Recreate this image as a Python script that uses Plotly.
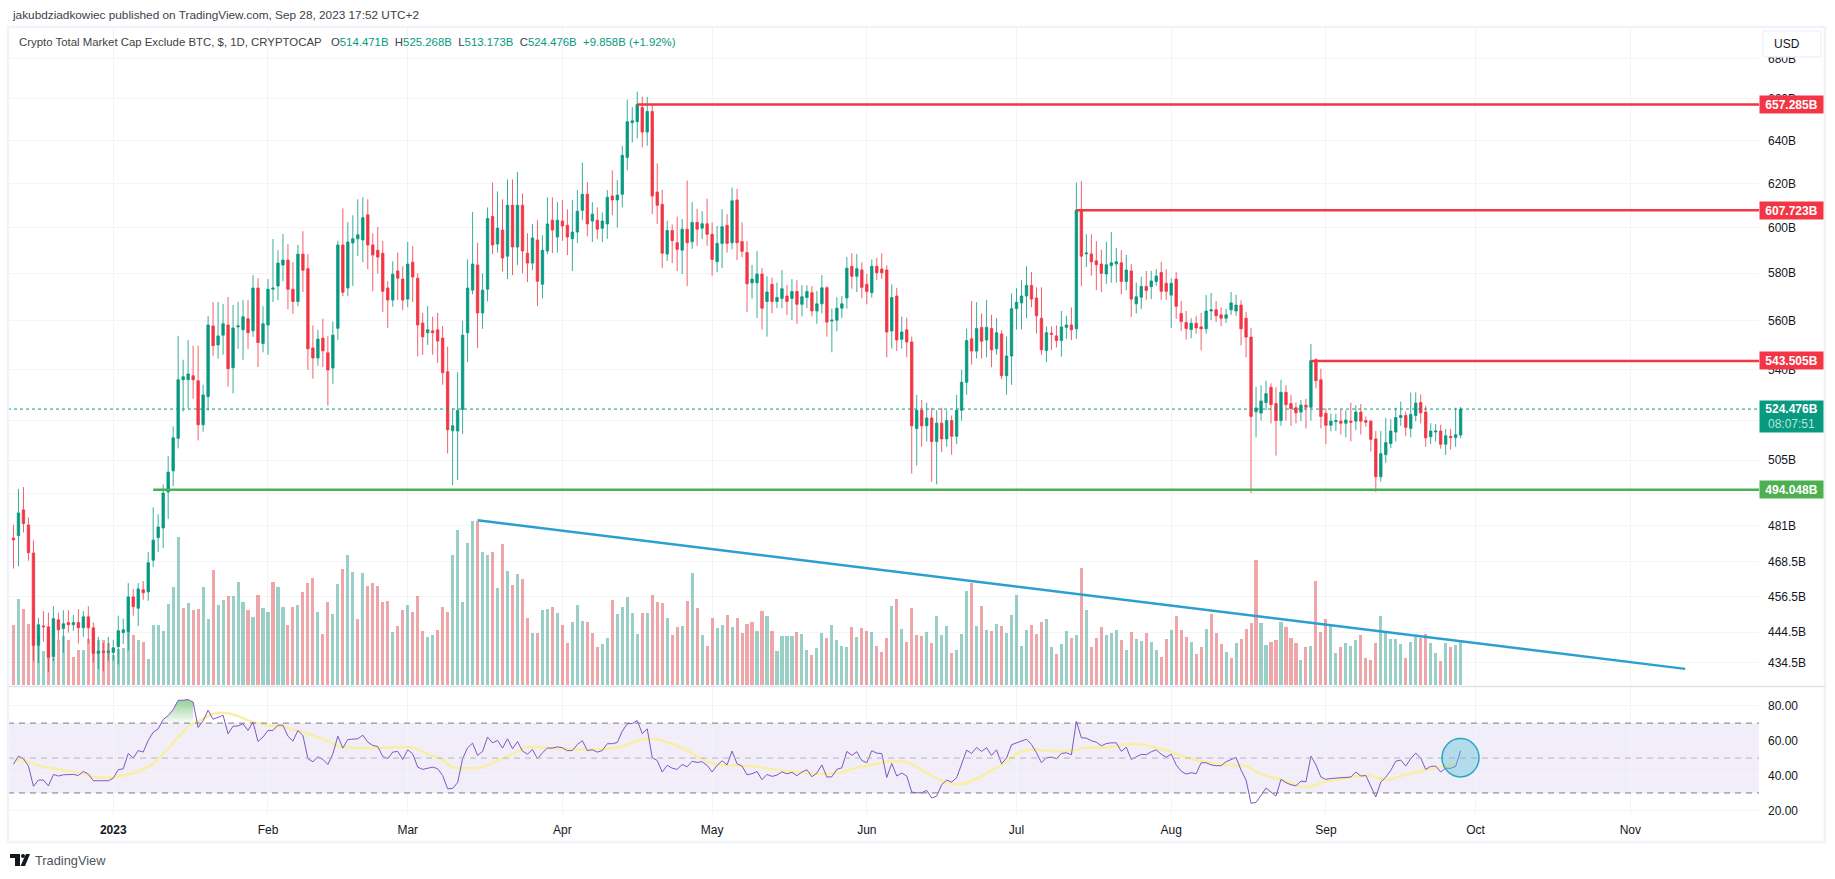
import math

import pandas as pd
import plotly.graph_objects as go

WIDTH, HEIGHT = 1835, 879
GREEN = "#089981"
RED = "#F23645"
FONT = "Liberation Sans"

# daily OHLC in billions (first candle 2022-12-12)
opens = [
    476.6,477.5,486.7,481.3,471.4,440.2,446.6,446.3,436.5,448.6,
    445.7,447.7,447.0,447.7,446.0,449.6,446.0,437.6,438.3,437.9,
    437.9,439.8,444.4,444.7,456.3,452.5,458.7,458.0,468.9,476.8,
    480.2,493.2,501.0,513.2,536.0,536.0,537.6,535.6,518.4,529.3,
    557.8,550.0,554.0,558.2,540.8,557.4,556.2,560.8,555.8,573.7,
    550.6,558.2,573.2,574.6,583.6,585.7,573.2,568.0,588.3,582.0,
    548.8,544.7,552.8,546.8,540.7,556.8,592.3,573.7,593.2,595.0,
    594.5,605.7,592.3,590.0,588.7,573.7,568.6,581.0,577.5,569.0,
    584.8,577.9,559.0,555.0,555.8,556.2,552.8,539.2,516.1,516.0,
    524.3,555.0,572.8,583.6,563.2,573.2,604.9,592.7,598.9,587.4,
    610.0,591.4,610.0,588.7,584.4,594.5,575.3,589.7,603.3,595.8,
    602.9,601.0,595.0,598.0,607.7,615.0,602.9,603.3,599.7,601.6,
    614.2,612.4,615.0,632.0,648.5,649.0,655.8,644.0,653.9,616.0,
    610.4,588.3,598.7,593.3,590.0,599.3,593.7,602.3,599.7,601.7,
    597.0,585.0,593.0,601.0,593.3,612.4,593.8,589.0,575.9,575.9,
    579.7,568.0,575.3,568.0,569.3,570.3,569.3,572.2,566.8,569.7,
    571.7,564.0,567.0,573.8,559.8,560.2,565.2,569.5,583.0,578.7,
    581.4,575.3,571.7,583.0,581.8,581.4,555.7,570.3,552.3,556.2,
    551.2,517.0,524.0,518.0,521.0,512.0,519.0,513.0,520.0,514.0,
    524.0,535.0,552.5,547.5,557.2,552.0,556.7,548.4,554.5,537.6,
    545.5,565.0,567.4,570.3,574.8,569.5,561.0,547.7,554.8,553.7,
    551.8,557.2,558.2,556.6,607.8,588.4,588.4,585.4,584.0,579.7,
    583.3,584.0,584.5,576.5,581.0,567.0,569.8,574.4,574.3,576.5,
    580.3,575.7,570.7,577.5,563.0,559.2,556.3,558.9,557.4,556.6,
    564.0,564.5,562.4,561.0,564.5,564.0,566.5,561.0,553.2,523.4,
    522.9,527.0,533.0,526.6,520.0,531.0,526.6,525.0,523.3,526.0,
    525.2,544.0,536.0,522.8,518.2,519.6,519.8,519.0,519.8,519.8,
    523.3,520.0,519.8,513.0,498.8,507.0,511.2,515.6,521.2,522.0,
    517.0,522.0,527.0,523.3,513.8,515.6,516.0,511.0,514.0,513.5,
    514.471,
]
highs = [
    481.4,494.3,495.0,484.0,475.8,449.3,451.5,451.0,453.2,451.0,
    451.8,451.8,450.2,452.2,451.5,453.2,447.7,443.0,441.0,443.0,
    442.0,450.0,449.0,461.0,459.0,461.0,461.7,471.7,487.6,485.1,
    496.0,506.5,517.8,553.7,544.0,552.0,549.7,549.7,534.0,562.0,
    567.8,567.8,567.0,569.9,566.5,567.8,568.6,568.6,579.2,577.9,
    566.0,577.5,594.9,590.0,597.2,592.7,584.8,592.3,598.4,588.3,
    558.0,556.2,560.8,553.7,559.6,594.1,608.6,602.4,605.5,612.7,
    613.6,612.7,597.5,600.2,594.1,576.6,585.2,589.0,583.0,593.6,
    591.8,580.0,563.2,566.0,561.6,563.2,557.8,549.3,524.7,539.0,
    560.0,586.0,607.0,593.2,580.0,609.0,620.3,616.3,612.7,621.8,
    621.8,625.2,615.4,597.5,601.6,603.3,596.6,613.6,613.6,611.4,
    612.3,608.2,612.3,616.9,629.6,620.5,611.4,609.0,606.8,616.9,
    626.0,621.5,637.5,659.7,656.0,663.6,661.1,661.0,657.3,629.2,
    617.0,603.0,601.4,604.9,603.8,621.3,611.4,608.4,607.3,613.0,
    602.3,600.7,608.2,606.0,618.0,617.5,602.3,594.0,583.6,589.6,
    582.2,578.7,578.2,576.0,581.4,575.0,577.5,577.0,574.9,574.9,
    574.5,572.4,579.2,574.5,565.0,569.8,570.3,587.0,588.7,588.3,
    584.7,579.7,586.0,586.7,588.7,583.4,575.3,573.8,561.6,561.2,
    553.4,530.0,528.0,527.0,525.0,524.0,525.0,524.0,522.0,530.0,
    540.0,556.7,568.2,567.7,563.0,568.6,562.4,561.0,556.0,553.4,
    571.4,573.6,577.0,583.0,580.5,574.0,574.0,557.5,557.5,558.0,
    564.0,562.0,565.5,620.4,621.0,597.0,597.0,594.0,590.2,593.8,
    598.0,591.0,590.0,588.0,584.0,576.0,578.5,581.0,581.0,581.8,
    585.0,581.8,577.9,580.5,568.2,564.0,561.0,562.0,563.2,570.7,
    571.6,568.2,565.5,564.9,572.0,570.8,568.5,563.6,557.0,533.2,
    533.8,535.6,534.6,533.0,536.0,533.8,530.0,527.0,528.0,528.5,
    550.4,544.6,540.4,524.7,522.7,522.7,524.4,524.0,527.0,526.0,
    526.4,521.6,520.2,516.0,516.0,521.0,520.5,525.0,527.4,523.5,
    531.0,531.0,530.2,525.8,519.0,518.7,518.4,516.8,516.8,525.0,
    525.268,
]
lows = [
    466.0,466.7,478.6,468.7,435.0,434.4,441.4,431.5,435.0,441.8,
    437.8,444.4,445.0,440.8,443.0,440.8,434.6,432.5,431.8,435.2,
    435.2,434.0,440.7,438.4,450.0,446.6,455.3,455.0,466.5,471.7,
    473.1,483.4,495.4,509.4,523.5,524.6,528.5,512.4,515.7,523.8,
    545.6,544.4,546.0,533.3,530.6,548.4,544.0,548.4,553.3,541.1,
    547.0,546.0,567.8,568.6,576.6,564.8,562.8,566.0,572.0,540.0,
    536.4,541.6,541.1,525.8,534.4,552.0,570.2,570.2,574.6,587.5,
    584.8,581.7,572.3,579.8,563.6,557.0,565.8,568.6,564.4,565.6,
    567.8,545.4,546.0,550.0,546.0,542.7,534.0,507.5,495.7,497.6,
    514.9,543.0,571.0,548.8,556.6,568.0,588.3,589.0,580.8,577.5,
    579.2,583.6,580.0,576.2,581.3,566.0,569.3,588.3,588.7,589.0,
    594.1,587.9,581.0,593.2,603.3,596.1,593.6,595.0,593.6,595.0,
    605.5,600.0,609.0,626.0,639.0,641.0,636.7,637.5,606.0,601.6,
    582.2,585.2,584.4,581.0,579.7,574.5,590.6,591.9,594.9,591.9,
    579.0,580.5,582.2,589.0,590.4,585.7,587.0,563.6,569.2,561.0,
    556.3,553.4,563.1,565.2,565.2,562.3,560.2,558.7,561.8,565.2,
    561.8,558.7,563.0,553.4,547.0,555.6,561.0,565.0,573.4,572.0,
    569.4,566.8,569.6,577.0,577.5,544.9,548.5,547.5,548.5,545.0,
    500.0,503.0,510.0,512.0,497.0,496.0,508.0,510.0,507.0,511.0,
    520.0,530.0,542.0,544.5,544.5,545.0,541.0,546.0,536.3,530.0,
    534.0,556.3,556.3,561.0,565.6,554.7,546.0,543.0,548.0,549.0,
    545.2,552.5,552.0,552.5,574.6,582.7,579.0,572.8,572.0,575.5,
    576.0,576.0,571.0,572.8,561.5,563.0,564.8,568.7,569.0,574.6,
    568.7,568.7,557.0,560.7,555.8,552.2,552.7,554.6,547.8,554.6,
    560.2,559.4,557.7,559.0,562.4,562.0,549.8,545.0,492.8,513.6,
    520.0,524.0,518.9,506.7,518.0,520.0,518.0,518.9,519.8,517.0,
    520.0,532.6,517.0,511.0,515.9,516.0,514.7,513.6,512.0,516.3,
    514.7,517.6,508.2,493.2,497.0,504.0,509.5,512.0,518.0,514.0,
    513.6,519.8,518.9,510.0,511.0,512.0,509.3,507.0,509.0,510.0,
    513.173,
]
closes = [
    476.0,485.6,481.8,471.5,440.2,447.0,446.3,436.3,449.0,445.3,
    447.3,447.0,447.7,446.0,449.6,446.0,437.6,438.3,437.9,438.3,
    439.4,445.0,445.3,456.3,453.0,459.0,457.7,468.0,475.9,480.6,
    492.8,500.5,513.4,536.0,537.2,538.3,536.0,518.4,530.0,558.2,
    549.7,553.7,558.7,540.4,557.0,557.8,561.6,555.0,573.7,551.0,
    558.7,573.2,573.7,584.4,585.7,573.2,568.0,588.3,581.3,548.4,
    544.7,552.4,547.6,539.9,554.0,592.3,571.9,593.6,595.0,596.8,
    604.4,592.3,587.9,587.0,572.3,568.6,579.6,577.9,568.6,584.0,
    578.4,558.2,553.3,556.2,555.0,551.6,538.8,516.5,518.0,523.9,
    554.0,573.7,584.0,563.2,572.8,604.0,592.3,599.7,586.6,610.0,
    591.4,610.0,589.7,584.4,595.4,576.6,590.0,601.6,598.9,603.3,
    600.7,595.8,598.0,607.3,615.0,601.6,606.0,599.3,602.9,613.6,
    612.4,614.6,633.0,649.0,649.4,657.3,644.0,653.9,614.2,610.0,
    588.7,598.7,594.2,590.4,599.3,593.3,602.3,599.3,601.7,597.0,
    586.0,593.0,600.4,593.0,612.0,593.3,589.5,575.5,577.5,579.7,
    565.2,572.0,568.0,569.7,573.4,568.0,572.2,566.8,570.0,572.2,
    564.0,567.0,573.8,559.4,560.2,565.2,567.0,582.2,578.7,582.0,
    574.0,572.2,583.0,580.2,580.2,555.3,569.7,552.0,555.3,551.2,
    518.0,524.0,518.0,521.0,512.0,519.0,513.0,520.0,514.0,524.0,
    535.0,551.8,547.5,556.7,551.5,557.2,548.0,555.0,537.6,545.5,
    565.0,567.7,570.3,574.8,569.0,562.0,548.0,555.0,554.4,551.8,
    557.4,558.2,556.2,607.8,587.4,588.8,585.0,583.7,580.0,583.7,
    584.5,585.0,576.5,581.4,569.0,570.0,574.4,572.7,576.7,578.8,
    572.3,572.3,575.7,566.0,559.6,556.7,558.9,557.0,556.6,564.0,
    564.5,562.0,561.0,562.4,567.4,566.5,556.6,553.2,521.6,524.9,
    527.6,530.5,526.2,520.0,531.0,526.2,524.7,523.0,526.0,525.2,
    543.6,535.6,521.6,518.2,519.8,520.0,519.0,520.2,519.4,523.3,
    519.8,519.4,512.8,498.8,507.4,511.6,516.0,521.2,522.0,517.4,
    522.4,526.8,523.0,513.4,516.0,516.0,511.0,514.2,513.5,514.6,
    524.476,
]

# volume (arbitrary units, only relative size can be read) and its bar colour
volumes = [
    182,260,230,185,230,149,104,170,82,137,
    149,137,86,107,107,140,157,137,137,128,
    90,110,113,160,152,137,131,80,182,182,
    164,245,296,446,233,248,227,230,296,200,
    347,242,257,269,269,311,251,227,206,272,
    233,221,311,296,236,182,236,242,281,308,
    323,221,155,251,215,305,350,392,341,200,
    338,299,308,299,251,254,161,179,227,242,
    221,269,164,146,152,167,236,221,392,467,
    251,428,494,495,401,392,401,293,425,344,
    302,335,320,203,158,158,227,230,236,218,
    182,128,191,242,194,191,158,116,123,141,
    255,213,234,264,216,153,216,216,270,249,
    246,201,150,174,177,252,336,231,150,117,
    201,171,180,210,174,201,156,183,189,162,
    222,207,162,102,147,147,147,159,153,105,
    90,111,156,141,180,135,117,114,174,144,
    171,162,159,117,99,141,237,258,168,129,
    231,150,147,159,126,207,150,177,96,105,
    153,282,306,177,237,165,162,183,177,156,
    210,270,117,165,180,153,189,198,114,93,
    123,162,141,150,351,225,114,141,174,150,
    156,165,135,105,159,138,132,156,129,105,
    84,138,165,207,165,144,129,93,114,168,
    213,156,123,99,81,126,138,168,186,375,
    186,120,129,135,189,174,141,126,75,114,
    117,312,159,198,180,96,114,126,117,135,
    150,81,75,126,207,156,138,138,123,81,
    129,144,141,153,126,96,72,126,114,120,
    129,
]
volume_sides = (
    "RGRRRGGRGR" "GRRRGRRGRR" "GGGGRGRGGG" "GGGGRGRRGG" "RGGRGGGRGR"
    "GGRGGRRGRR" "RGRRGGRGGR" "GRRRRRGRRG" "RRRGGRRRGG" "GGGRGGRGRG"
    "RGRRGRGGRG" "RRGGGRRRGG" "RGGGGGRGRR" "RGRRGRGRGR" "RGGRGRRRRG"
    "RGRGGGGRGG" "RGGRGGGGRG" "RRGRRRGRGR" "RRRGRGGGRG" "GGRGRGRGRG"
    "GGGGRRRGGR" "GGRGRGRRRG" "GGRGRGGRGG" "RRGRRRGRRG" "RRRGRGRRRR"
    "GGRRGRRRGR" "GRRRGGRGGG" "RRRRGGGGGR" "GGRRGGRGRG" "G"
)

rsi = [
    46.5,51.1,49.6,45.4,33.8,37.4,37.4,34.0,40.6,39.7,
    40.4,40.6,40.6,40.0,42.3,40.8,37.0,37.0,37.0,37.0,
    38.5,43.3,43.9,52.6,50.0,54.3,53.4,60.1,64.8,66.7,
    72.1,74.3,77.8,83.1,83.1,83.5,82.0,67.5,71.3,77.4,
    72.2,73.4,74.5,63.9,68.2,68.4,69.6,65.8,70.5,59.5,
    62.0,65.8,65.8,68.8,68.8,62.5,59.7,65.8,62.9,49.6,
    47.9,50.7,49.2,46.3,52.4,62.5,55.7,60.6,60.8,61.0,
    63.1,59.1,57.2,56.6,50.9,49.6,53.4,53.8,49.2,54.7,
    52.4,44.8,43.5,44.2,44.8,43.9,40.0,32.4,32.6,35.9,
    49.6,55.9,58.5,51.5,53.8,62.0,58.7,60.1,55.7,61.0,
    55.3,59.5,54.0,52.2,54.9,49.6,53.0,55.7,55.7,56.4,
    55.9,54.2,54.3,57.8,59.9,54.3,54.7,53.4,54.3,58.2,
    58.2,58.9,65.4,69.6,69.8,71.5,64.0,66.7,50.2,48.6,
    42.0,45.8,44.2,43.5,46.3,45.0,48.1,47.5,47.9,45.8,
    42.0,45.8,48.4,46.1,54.0,46.7,45.4,40.4,41.0,42.3,
    37.6,40.6,39.5,40.2,42.1,41.0,41.8,39.9,42.0,43.3,
    39.3,41.4,46.1,39.1,39.3,43.5,44.4,53.8,51.5,53.6,
    48.6,47.3,54.2,52.8,52.6,38.9,46.9,39.7,41.4,39.7,
    30.5,30.1,30.1,31.5,27.1,28.2,34.7,37.4,36.2,38.7,
    46.7,54.5,52.6,56.1,53.8,55.9,51.5,54.7,46.7,50.0,
    57.6,58.7,59.5,60.8,57.8,53.0,47.3,50.2,50.5,49.6,
    52.6,53.0,51.9,71.1,61.6,61.4,59.9,59.1,57.0,58.3,
    58.7,58.7,53.8,56.2,49.2,50.5,52.1,51.9,53.6,54.7,
    52.2,50.5,52.2,46.1,42.5,40.8,41.6,41.0,47.3,47.3,
    46.1,45.6,45.6,47.9,49.2,50.3,43.1,37.4,24.1,24.6,
    28.6,32.8,30.5,28.2,37.8,35.9,34.7,34.1,36.8,36.4,
    51.1,46.1,39.1,37.8,38.3,38.5,38.5,38.7,39.1,42.0,
    39.7,40.0,34.3,27.7,36.2,39.1,42.9,48.2,48.8,45.4,
    49.6,52.8,50.0,43.5,45.2,45.4,42.0,44.2,44.1,45.2,
    54.2,
]

# yellow RSI average, read at the candles where its shape changes
rsi_ma_days = [
    0,2,5,8,11,14,16,19,22,25,28,30,33,35,38,40,43,45,48,51,54,57,60,63,65,68,72,76,80,83,
    86,88,91,94,97,100,103,107,111,114,118,122,125,128,132,135,138,141,143,148,152,157,161,
    165,169,173,176,179,181,184,187,190,193,196,199,201,204,208,212,215,219,223,226,231,236,
    240,244,247,250,254,259,263,267,270,272,275,279,284,287,289,
]
rsi_ma = [
    49.0,48.4,45.8,43.9,42.5,41.0,39.1,38.9,40.0,42.3,46.7,52.4,62.0,68.1,72.4,75.3,75.7,74.0,
    70.5,68.6,67.7,65.8,62.9,59.7,56.8,55.9,55.7,56.2,55.9,52.4,49.0,44.8,44.2,44.8,48.6,52.4,
    56.2,55.7,55.3,54.7,55.3,56.6,59.9,61.0,58.2,54.3,49.6,46.1,45.8,45.4,43.5,42.0,41.0,41.4,
    44.4,46.7,48.1,47.7,44.8,40.0,35.9,35.1,38.2,42.9,47.7,52.4,54.9,54.0,54.3,55.9,55.9,57.8,
    57.8,54.3,49.6,47.3,45.8,45.4,40.6,37.8,33.4,36.6,38.5,40.0,39.7,37.6,40.4,43.9,45.4,46.9,
]

# axis ticks, 520 and 493 have a grid line but their labels are fully hidden on the original
price_ticks = [680, 660, 640, 620, 600, 580, 560, 540, 520, 505, 492.5, 481, 468.5, 456.5, 444.5, 434.5]
price_labels = ["680B", "660B", "640B", "620B", "600B", "580B", "560B", "540B", "", "505B", "",
                "481B", "468.5B", "456.5B", "444.5B", "434.5B"]
rsi_ticks = [20, 40, 60, 80]
rsi_labels = ["20.00", "40.00", "60.00", "80.00"]
month_ticks = ["2023-01-01", "2023-02-01", "2023-03-01", "2023-04-01", "2023-05-01", "2023-06-01",
               "2023-07-01", "2023-08-01", "2023-09-01", "2023-10-01", "2023-11-01"]
month_labels = ["<b>2023</b>", "Feb", "Mar", "Apr", "May", "Jun", "Jul", "Aug", "Sep", "Oct", "Nov"]

# drawn levels: price, first candle of the line, colour
level_prices = [657.285, 607.723, 543.505, 494.048]
level_starts = ["2023-04-16", "2023-07-13", "2023-08-29", "2023-01-09"]
level_colors = [RED, RED, RED, "#4CAF50"]
last_price = 524.476
trend_dates = ["2023-03-15", "2023-11-12"]
trend_prices = [483.0, 432.6]

dates = pd.date_range("2022-12-12", periods=len(closes), freq="D")
x_range = ["2022-12-10 21:36", "2023-11-26 19:00"]


# paper coordinates from screen pixels
def px(x):
    return x / WIDTH


def py(y):
    return 1 - y / HEIGHT


fig = go.Figure()

# --------------------------------------------------
# volume, price, levels
# --------------------------------------------------
fig.add_trace(go.Bar(
    x=dates,
    y=volumes,
    width=0.62 * 86400000,
    marker_color=["rgba(53,159,143,0.5)" if s == "G" else "rgba(223,77,81,0.5)" for s in volume_sides],
    marker_line_width=0,
    xaxis="x",
    yaxis="y",
))
fig.add_trace(go.Candlestick(
    x=dates,
    open=opens,
    high=highs,
    low=lows,
    close=closes,
    increasing=dict(line=dict(color=GREEN, width=0.8), fillcolor=GREEN),
    decreasing=dict(line=dict(color=RED, width=0.8), fillcolor=RED),
    xaxis="x",
    yaxis="y2",
))
fig.add_trace(go.Scatter(
    x=[x_range[0], x_range[1]],
    y=[last_price, last_price],
    mode="lines",
    line=dict(color=GREEN, width=1, dash="dot"),
    xaxis="x",
    yaxis="y2",
))
for price, start, color in zip(level_prices, level_starts, level_colors):
    fig.add_trace(go.Scatter(
        x=[start, x_range[1]],
        y=[price, price],
        mode="lines",
        line=dict(color=color, width=2.4),
        xaxis="x",
        yaxis="y2",
    ))
fig.add_trace(go.Scatter(
    x=trend_dates,
    y=trend_prices,
    mode="lines",
    line=dict(color="#2A9FD0", width=2.4),
    xaxis="x",
    yaxis="y2",
))

# --------------------------------------------------
# RSI pane
# --------------------------------------------------
over_days = list(dates[30:37])
over_values = rsi[30:37]
fig.add_trace(go.Scatter(
    x=[over_days[0]] + over_days + [over_days[-1]],
    y=[70] + over_values + [70],
    mode="none",
    fill="toself",
    fillgradient=dict(
        type="vertical",
        colorscale=[[0, "rgba(76,175,80,0.03)"], [1, "rgba(76,175,80,0.6)"]],
    ),
    xaxis="x2",
    yaxis="y3",
))
fig.add_trace(go.Scatter(
    x=[dates[i] for i in rsi_ma_days],
    y=rsi_ma,
    mode="lines",
    line=dict(color="#F8EFA5", width=2.5, shape="spline"),
    xaxis="x2",
    yaxis="y3",
))
fig.add_trace(go.Scatter(
    x=dates,
    y=rsi,
    mode="lines",
    line=dict(color="#7E57C2", width=1),
    xaxis="x2",
    yaxis="y3",
))

fig.add_shape(type="rect", xref="x2 domain", yref="y3", x0=0, x1=1, y0=30, y1=70,
              fillcolor="rgba(126,87,194,0.1)", line_width=0, layer="below")
for level, color in zip([70, 50, 30], ["#787B86", "#B2B5BE", "#787B86"]):
    fig.add_shape(type="line", xref="x2 domain", yref="y3", x0=0, x1=1, y0=level, y1=level,
                  line=dict(color=color, width=1, dash="6px,5px"))
fig.add_shape(type="circle", xref="paper", yref="paper",
              x0=px(1442), x1=px(1479), y0=py(778.7), y1=py(740.3),
              fillcolor="rgba(80,190,215,0.38)", line=dict(color="#25A9C0", width=1.5))

# --------------------------------------------------
# frame and small decorations
# --------------------------------------------------
fig.add_shape(type="rect", xref="paper", yref="paper", x0=px(8), x1=px(1825), y0=py(844), y1=py(27),
              line=dict(color="#F0F3FA", width=2.5))
fig.add_shape(type="line", xref="paper", yref="paper", x0=px(8), x1=px(1825), y0=py(688), y1=py(688),
              line=dict(color="#E0E3EB", width=1.5))
fig.add_shape(type="rect", xref="paper", yref="paper", x0=px(1763), x1=px(1821), y0=py(57), y1=py(31),
              fillcolor="white", line=dict(color="#F0F3FA", width=1.5))

# TradingView logo
fig.add_shape(type="path", xref="paper", yref="paper", fillcolor="#131722", line_width=0,
              path="M {} {} L {} {} L {} {} L {} {} L {} {} L {} {} Z".format(
                  px(10), py(856), px(20), py(856), px(20), py(868), px(15), py(868), px(15), py(860), px(10), py(860)))
fig.add_shape(type="circle", xref="paper", yref="paper", fillcolor="#131722", line_width=0,
              x0=px(21), x1=px(25), y0=py(860), y1=py(856))
fig.add_shape(type="path", xref="paper", yref="paper", fillcolor="#131722", line_width=0,
              path="M {} {} L {} {} L {} {} L {} {} Z".format(
                  px(26), py(856), px(30), py(856), px(25), py(868), px(20.5), py(868)))


def add_text(text, x, y, size=12, color="#131722", anchor="left"):
    fig.add_annotation(
        text=text, xref="paper", yref="paper", x=px(x), y=py(y),
        xanchor=anchor, yanchor="middle", showarrow=False,
        font=dict(family=FONT, size=size, color=color),
    )


def val(text):
    return f'<span style="color:{GREEN}">{text}</span>'


add_text("jakubdziadkowiec published on TradingView.com, Sep 28, 2023 17:52 UTC+2", 10, 15, size=11.8, color="#3C3F47")
add_text(
    "Crypto Total Market Cap Exclude BTC, $, 1D, CRYPTOCAP   O" + val("514.471B") + "  H" + val("525.268B")
    + "  L" + val("513.173B") + "  C" + val("524.476B") + "  " + val("+9.858B (+1.92%)"),
    17, 42, size=11.4, color="#3C3F47",
)
add_text("USD", 1772, 44.5, size=12)
add_text("TradingView", 33, 862, size=12.8, color="#50535E")

# price tags on the scale
for price, color in zip(level_prices, level_colors):
    fig.add_annotation(
        text=f"<b>{price:.3f}B</b>", xref="paper", yref="y2", x=px(1759), y=math.log10(price),
        xanchor="left", yanchor="middle", showarrow=False, width=62, height=16, bgcolor=color,
        align="center", borderpad=0.5, font=dict(family=FONT, size=12, color="white"),
    )
fig.add_annotation(
    text='<b>524.476B</b><br><span style="color:#B8E4DC">08:07:51</span>', xref="paper", yref="paper",
    x=px(1759), y=py(417.5), xanchor="left", yanchor="middle", showarrow=False, width=62, height=30,
    bgcolor=GREEN, align="center", borderpad=0.5, font=dict(family=FONT, size=12, color="white"),
)

grid = "#F2F4F8"
tick_font = dict(family=FONT, size=12, color="#131722")
domain_x = [px(8), px(1759)]
domain_top = [py(688), py(27)]
domain_rsi = [py(817), py(688)]

fig.update_layout(
    width=WIDTH,
    height=HEIGHT,
    autosize=False,
    margin=dict(l=0, r=0, t=0, b=0),
    paper_bgcolor="white",
    plot_bgcolor="white",
    showlegend=False,
    bargap=0,
    xaxis=dict(
        domain=domain_x, range=x_range, type="date", anchor="y", matches="x2",
        tickmode="array", tickvals=month_ticks, showticklabels=False,
        showgrid=True, gridcolor=grid, gridwidth=1, zeroline=False, showline=False,
        rangeslider=dict(visible=False),
    ),
    xaxis2=dict(
        domain=domain_x, range=x_range, type="date", anchor="y3",
        tickmode="array", tickvals=month_ticks, ticktext=month_labels, tickfont=tick_font,
        ticks="", ticklabelstandoff=6,
        showgrid=True, gridcolor=grid, gridwidth=1, zeroline=False, showline=False,
    ),
    # volume only fills the bottom of the price pane
    yaxis=dict(
        domain=domain_top, range=[-4, 1979], visible=False, showgrid=False, zeroline=False,
    ),
    yaxis2=dict(
        domain=domain_top, type="log", range=[math.log10(427.0), math.log10(696.2)],
        overlaying="y", anchor="x", side="right",
        tickmode="array", tickvals=price_ticks, ticktext=price_labels, tickfont=tick_font,
        ticks="", ticklabelstandoff=8,
        showgrid=True, gridcolor=grid, gridwidth=1, zeroline=False, showline=False,
    ),
    yaxis3=dict(
        domain=domain_rsi, range=[17.3, 91], anchor="x2", side="right",
        tickmode="array", tickvals=rsi_ticks, ticktext=rsi_labels, tickfont=tick_font,
        ticks="", ticklabelstandoff=8,
        showgrid=True, gridcolor=grid, gridwidth=1, zeroline=False, showline=False,
    ),
)

fig.write_html("out.html", config={"displayModeBar": False}, post_script="document.body.style.margin='0';")
